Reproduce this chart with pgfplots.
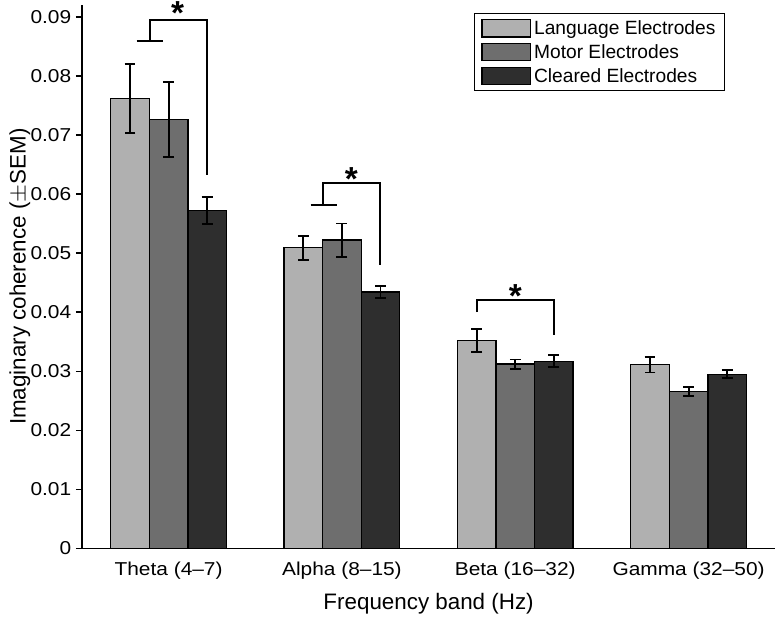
\documentclass[border=0pt]{standalone}
\usepackage{pgfplots}
\usepackage{pgfplotstable}
\pgfplotsset{compat=1.18}
\usepackage{fontspec}
\setmainfont{Liberation Sans}
\newfontfamily\widefont[FakeStretch=1.12,Ligatures=TeX]{Liberation Sans}
\definecolor{cL}{RGB}{176,176,176}
\definecolor{cM}{RGB}{110,110,110}
\definecolor{cC}{RGB}{46,46,46}
\pgfplotstableread{
x L Le M Me C Ce
0 0.0762 0.0058 0.0726 0.0064 0.0572 0.0023
1 0.0509 0.0020 0.0522 0.0028 0.0434 0.0010
2 0.0352 0.0020 0.0312 0.0008 0.0317 0.0010
3 0.0311 0.0013 0.0266 0.0008 0.0295 0.0007
}\data
\pgfplotsset{
  mybar/.style={draw=black, line width=1pt,
    legend image code/.code={\draw[##1] (0pt,-6.4pt) rectangle (36.75pt,6.4pt);},
    error bars/y dir=both, error bars/y explicit,
    error bars/error bar style={line width=1.4pt, black},
    error bars/error mark options={rotate=90, mark size=4.1pt, line width=1.4pt, black}},
}
\begin{document}
\begin{tikzpicture}
\begin{axis}[name=ax, scale only axis, width=520.5pt, height=408pt,
  xmin=-0.5, xmax=3.5, ymin=0, ymax=0.092,
  axis x line*=bottom, axis y line*=left,
  axis line style={line width=1.1pt, black},
  ybar=0pt, bar width=0.2225,
  xtick={0,1,2,3},
  xticklabels={Theta (4–7), Alpha (8–15), Beta (16–32), Gamma (32–50)},
  x tick style={draw=none},
  scaled y ticks=false,
  ytick={0,0.01,0.02,0.03,0.04,0.05,0.06,0.07,0.08,0.09},
  yticklabels={0,0.01,0.02,0.03,0.04,0.05,0.06,0.07,0.08,0.09},
  y tick style={line width=1.1pt, black},
  tick align=outside, major tick length=4.5pt,
  tick label style={font=\widefont\fontsize{14}{16}\selectfont},
  xticklabel style={yshift=-2pt},
  xlabel={Frequency band (Hz)},
  ylabel={Imaginary coherence ($\pm$SEM)},
  label style={font=\fontsize{16.8}{18}\selectfont},
  xlabel style={at={(axis description cs:0.5,-0.1011)}, anchor=center},
  ylabel style={at={(axis description cs:-0.0894,0.5)}, anchor=center},
  legend style={at={(rel axis cs:0.928,0.985)}, anchor=north east,
    draw=black, line width=0.9pt, font=\fontsize{14.4}{16}\selectfont,
    cells={anchor=west}, inner xsep=5pt, inner ysep=3pt, row sep=2pt},
  clip=false,
]
\addplot[mybar, fill=cL, bar shift=-0.2225] table[x=x, y=L, y error=Le]{\data};
\addlegendentry{Language Electrodes}
\addplot[mybar, fill=cM, bar shift=0] table[x=x, y=M, y error=Me]{\data};
\addlegendentry{Motor Electrodes}
\addplot[mybar, fill=cC, bar shift=0.2225] table[x=x, y=C, y error=Ce]{\data};
\addlegendentry{Cleared Electrodes}
% significance brackets
\draw[line width=1.5pt] (axis cs:-0.185,0.0859) -- (axis cs:-0.035,0.0859);
\draw[line width=1.5pt] (axis cs:-0.11,0.0859) -- (axis cs:-0.11,0.0895) -- (axis cs:0.2225,0.0895) -- (axis cs:0.2225,0.0633);
\node[anchor=north, inner sep=0pt, font=\fontsize{25}{25}\selectfont\bfseries] at (axis cs:0.052,0.0926) {*};
\draw[line width=1.5pt] (axis cs:0.819,0.0582) -- (axis cs:0.969,0.0582);
\draw[line width=1.5pt] (axis cs:0.893,0.0582) -- (axis cs:0.893,0.0618) -- (axis cs:1.2225,0.0618) -- (axis cs:1.2225,0.0480);
\node[anchor=north, inner sep=0pt, font=\fontsize{25}{25}\selectfont\bfseries] at (axis cs:1.054,0.0645) {*};
\draw[line width=1.5pt] (axis cs:1.7775,0.0400) -- (axis cs:1.7775,0.0420) -- (axis cs:2.2225,0.0420) -- (axis cs:2.2225,0.0362);
\node[anchor=north, inner sep=0pt, font=\fontsize{25}{25}\selectfont\bfseries] at (axis cs:2.0,0.0447) {*};
\end{axis}
\path ([xshift=-61.5pt,yshift=-51.75pt]ax.south west) rectangle ([yshift=3.75pt]ax.north east);
\end{tikzpicture}
\end{document}
